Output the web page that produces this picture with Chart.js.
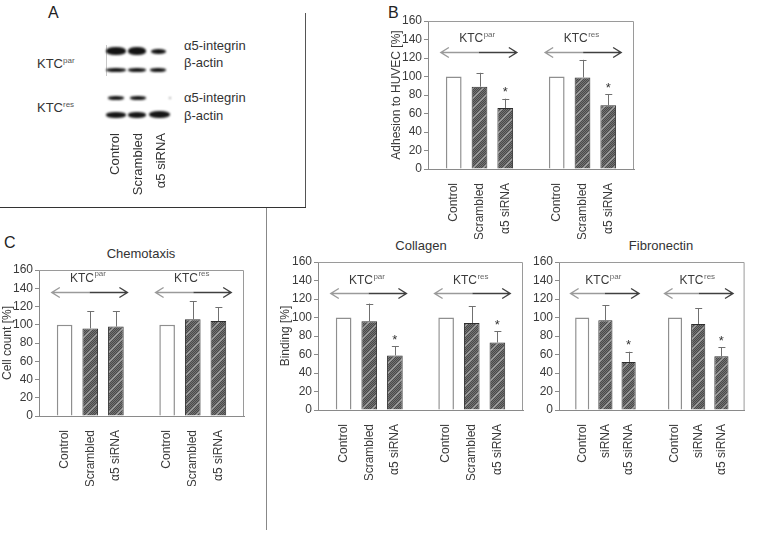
<!DOCTYPE html>
<html>
<head>
<meta charset="utf-8">
<script src="https://cdn.jsdelivr.net/npm/chart.js@4.4.1/dist/chart.umd.min.js"></script>
<style>
  body { margin: 0; background: #fff; }
  #fig { position: relative; width: 765px; height: 534px; overflow: hidden;
         font-family: "Liberation Sans", Arial, sans-serif; color: #333; }
  #fig canvas { position: absolute; left: 0; top: 0; }
  .t { position: absolute; white-space: nowrap; line-height: 1; font-size: 13px; }
  .t sup { font-size: 8px; vertical-align: 5px; color: #555; }
  .letter { font-size: 16px; color: #222; }
  .ttl { transform: translateX(-50%); }
  .vl { position: absolute; writing-mode: vertical-rl; transform: rotate(180deg);
        font-size: 13px; line-height: 14px; white-space: nowrap; }
  .band { position: absolute; background: #141414; border-radius: 45%; filter: blur(0.8px); }
  .rule { position: absolute; background: #555; }
</style>
</head>
<body>
<div id="fig">
  <!-- panel A: western blot -->
  <div class="t letter" style="left:48px;top:5px">A</div>
  <div class="rule" style="left:106px;top:45px;width:1px;height:31px;background:#c8c8c8"></div>
  <div class="band" style="left:106px;top:47px;width:20px;height:8px"></div>
  <div class="band" style="left:128px;top:47px;width:18px;height:8px"></div>
  <div class="band" style="left:151px;top:49px;width:15px;height:5px"></div>
  <div class="band" style="left:106px;top:68px;width:20px;height:4px"></div>
  <div class="band" style="left:128px;top:68px;width:18px;height:4px"></div>
  <div class="band" style="left:150px;top:68px;width:16px;height:4px"></div>
  <div class="band" style="left:108px;top:96px;width:16px;height:4px"></div>
  <div class="band" style="left:130px;top:96px;width:16px;height:4px"></div>
  <div class="band" style="left:169px;top:97px;width:2px;height:2px;background:#999"></div>
  <div class="band" style="left:106px;top:112px;width:20px;height:6px"></div>
  <div class="band" style="left:128px;top:112px;width:18px;height:6px"></div>
  <div class="band" style="left:149px;top:111px;width:21px;height:7px"></div>
  <div class="t" style="left:184px;top:39px">α5-integrin</div>
  <div class="t" style="left:184px;top:56px">β-actin</div>
  <div class="t" style="left:184px;top:91px">α5-integrin</div>
  <div class="t" style="left:184px;top:109px">β-actin</div>
  <div class="t" style="left:37px;top:57px">KTC<sup>par</sup></div>
  <div class="t" style="left:37px;top:101px">KTC<sup>res</sup></div>
  <div class="vl" style="left:108px;top:133px">Control</div>
  <div class="vl" style="left:131px;top:133px">Scrambled</div>
  <div class="vl" style="left:154px;top:133px">α5 siRNA</div>

  <!-- panel frames -->
  <div class="rule" style="left:305px;top:13px;width:1px;height:195px"></div>
  <div class="rule" style="left:0;top:207px;width:306px;height:1px;background:#333"></div>
  <div class="rule" style="left:266px;top:208px;width:1px;height:322px;background:#888"></div>

  <div class="t letter" style="left:388px;top:5px">B</div>
  <div class="t letter" style="left:4px;top:235px">C</div>
  <div class="t ttl" style="left:141px;top:247px">Chemotaxis</div>
  <div class="t ttl" style="left:421px;top:239px">Collagen</div>
  <div class="t ttl" style="left:661px;top:239px">Fibronectin</div>

  <canvas id="cB" width="765" height="534"></canvas>
  <canvas id="cC" width="765" height="534"></canvas>
  <canvas id="cCol" width="765" height="534"></canvas>
  <canvas id="cFn" width="765" height="534"></canvas>
</div>
<script>
// x slots: blank | par group | blank | res group | blank
const LABELS = ["", "Control", "Scrambled", "α5 siRNA", "", "Control", "Scrambled", "α5 siRNA", ""];
const LABELS_FN = ["", "Control", "siRNA", "α5 siRNA", "", "Control", "siRNA", "α5 siRNA", ""];
const GROUPS = [["KTC", "par"], ["KTC", "res"]];

// bars in order: par Control, Scrambled, α5 siRNA, res Control, Scrambled, α5 siRNA
const ADH_MEAN = [100, 89, 66, 100, 99, 69];
const ADH_SD   = [0, 15, 10, 0, 19, 12];
const ADH_SIG  = [false, false, true, false, false, true];

const CHEMO_MEAN = [100, 96, 98, 100, 106, 104];
const CHEMO_SD   = [0, 19, 17, 0, 20, 15];
const CHEMO_SIG  = [false, false, false, false, false, false];

const COL_MEAN = [100, 96, 59, 100, 94, 73];
const COL_SD   = [0, 19, 10, 0, 18, 12];
const COL_SIG  = [false, false, true, false, false, true];

const FN_MEAN = [100, 97, 52, 100, 93, 58];
const FN_SD   = [0, 16, 11, 0, 17, 10];
const FN_SIG  = [false, false, true, false, false, true];

const Y_MAX = 160, Y_STEP = 20;

const W = 765, H = 534, XH = 70;
const AX = "#8a8a8a", TXT = "#3a3a3a";
Chart.defaults.font.family = '"Liberation Sans", Arial, sans-serif';

// slot index for each of the six bars
const SLOT = [1, 2, 3, 5, 6, 7];
const pad9 = (arr) => { const a = new Array(9).fill(null); arr.forEach((v, i) => { a[SLOT[i]] = v; }); return a; };

// dithered dark grey with faint "/" stripes, like the scanned hatch
function hatch() {
  const c = document.createElement("canvas"); c.width = 10; c.height = 10;
  const g = c.getContext("2d");
  g.fillStyle = "#737373"; g.fillRect(0, 0, 10, 10);
  for (let y = 0; y < 10; y++) for (let x = 0; x < 10; x++) {
    const k = (x + y) % 10;
    if (k === 0) g.fillStyle = "#a2a2a2";
    else if (k === 1) g.fillStyle = "#8c8c8c";
    else if ((x + y) % 2 === 0) g.fillStyle = "#4a4a4a";
    else continue;
    g.fillRect(x, y, 1, 1);
  }
  return g.createPattern(c, "repeat");
}
const HATCH = hatch();

// error bars, stars, arrows, KTC labels, plot frame
const deco = {
  id: "deco",
  afterDatasetsDraw(chart, args, o) {
    const { ctx, chartArea: a, scales: { x, y } } = chart;
    ctx.save();
    ctx.strokeStyle = "#9a9a9a"; ctx.lineWidth = 1;
    ctx.beginPath();
    ctx.moveTo(a.left, a.top + 0.5); ctx.lineTo(a.right - 0.5, a.top + 0.5); ctx.lineTo(a.right - 0.5, a.bottom);
    ctx.stroke();

    const bars = chart.getDatasetMeta(0).data;
    o.sd.forEach((sd, i) => {
      const bar = bars[SLOT[i]];
      const top = y.getPixelForValue(o.mean[i] + sd);
      if (sd > 0) {
        ctx.strokeStyle = "#707070"; ctx.lineWidth = 1;
        ctx.beginPath();
        ctx.moveTo(Math.round(bar.x) + 0.5, bar.y); ctx.lineTo(Math.round(bar.x) + 0.5, top);
        ctx.moveTo(bar.x - 3, Math.round(top) + 0.5); ctx.lineTo(bar.x + 4, Math.round(top) + 0.5);
        ctx.stroke();
      }
      if (o.sig[i]) {
        ctx.fillStyle = "#333"; ctx.font = "13px " + Chart.defaults.font.family;
        ctx.textAlign = "center"; ctx.textBaseline = "middle";
        ctx.fillText("*", bar.x, top - 6);
      }
    });

    const ay = Math.round(y.getPixelForValue(o.arrowAt)) + 0.5;
    [[0.5, 3.45, 1.9], [4.55, 7.5, 5.95]].forEach(([s, e, c], gi) => {
      const x1 = x.getPixelForValue(s), x2 = x.getPixelForValue(e), m = (x1 + x2) / 2;
      ctx.lineWidth = 1.4;
      ctx.strokeStyle = "#9a9a9a";
      ctx.beginPath();
      ctx.moveTo(m, ay); ctx.lineTo(x1, ay);
      ctx.moveTo(x1 + 8, ay - 5); ctx.lineTo(x1, ay); ctx.lineTo(x1 + 8, ay + 5);
      ctx.stroke();
      ctx.strokeStyle = "#404040";
      ctx.beginPath();
      ctx.moveTo(m, ay); ctx.lineTo(x2, ay);
      ctx.moveTo(x2 - 8, ay - 5); ctx.lineTo(x2, ay); ctx.lineTo(x2 - 8, ay + 5);
      ctx.stroke();

      const [main, sup] = GROUPS[gi];
      const ly = y.getPixelForValue(o.labelAt);
      ctx.textBaseline = "middle"; ctx.textAlign = "left";
      ctx.font = "12px " + Chart.defaults.font.family;
      const w1 = ctx.measureText(main).width;
      ctx.font = "8px " + Chart.defaults.font.family;
      const w2 = ctx.measureText(sup).width;
      const lx = x.getPixelForValue(c) - (w1 + w2) / 2;
      ctx.fillStyle = TXT;
      ctx.font = "12px " + Chart.defaults.font.family;
      ctx.fillText(main, lx, ly);
      ctx.fillStyle = "#666";
      ctx.font = "8px " + Chart.defaults.font.family;
      ctx.fillText(sup, lx + w1 + 0.5, ly - 4);
    });
    ctx.restore();
  }
};

function panel(id, p) {
  const fills = p.mean.map((_, i) => (i % 3 === 0 ? "#ffffff" : HATCH));
  const borders = p.mean.map((_, i) => (i % 3 === 0 ? "#8f8f8f" : "#2e2e2e"));
  const widths = p.mean.map((_, i) => (i % 3 === 0 ? 1.5 : 1));
  return new Chart(document.getElementById(id), {
    type: "bar",
    data: {
      labels: p.labels,
      datasets: [{
        data: pad9(p.mean),
        backgroundColor: pad9(fills),
        borderColor: pad9(borders),
        borderWidth: pad9(widths),
        borderSkipped: "start",
        barPercentage: 0.61,
        categoryPercentage: 1,
      }],
    },
    options: {
      responsive: false, animation: false, events: [],
      layout: { padding: { left: p.box.l - p.yw, top: p.box.t, right: W - p.box.r, bottom: H - p.box.b - XH } },
      plugins: {
        legend: { display: false }, tooltip: { enabled: false },
        deco: { mean: p.mean, sd: p.sd, sig: p.sig, arrowAt: p.arrowAt, labelAt: p.labelAt },
      },
      scales: {
        x: {
          offset: false,
          grid: { display: false },
          border: { color: AX, width: 1 },
          ticks: { autoSkip: false, minRotation: 90, maxRotation: 90, padding: 6, color: TXT, font: { size: 12 } },
          afterFit: (s) => { s.height = XH; },
        },
        y: {
          min: 0, max: Y_MAX,
          grid: { drawOnChartArea: false, tickLength: 4, color: AX },
          border: { color: AX, width: 1 },
          ticks: { stepSize: Y_STEP, padding: 2, color: TXT, font: { size: 12 } },
          title: { display: !!p.ytitle, text: p.ytitle, color: TXT, font: { size: 12 }, padding: 0 },
          afterFit: (s) => { s.width = p.yw; },
        },
      },
    },
    plugins: [deco],
  });
}

panel("cB", { labels: LABELS, mean: ADH_MEAN, sd: ADH_SD, sig: ADH_SIG, ytitle: "Adhesion to HUVEC [%]",
  box: { l: 428, r: 634, t: 21, b: 169 }, yw: 39, arrowAt: 127, labelAt: 141 });
panel("cC", { labels: LABELS, mean: CHEMO_MEAN, sd: CHEMO_SD, sig: CHEMO_SIG, ytitle: "Cell count [%]",
  box: { l: 39, r: 244, t: 270, b: 416 }, yw: 39, arrowAt: 136, labelAt: 151 });
panel("cCol", { labels: LABELS, mean: COL_MEAN, sd: COL_SD, sig: COL_SIG, ytitle: "Binding [%]",
  box: { l: 318, r: 523, t: 262, b: 410 }, yw: 40, arrowAt: 127, labelAt: 140 });
panel("cFn", { labels: LABELS_FN, mean: FN_MEAN, sd: FN_SD, sig: FN_SIG, ytitle: "",
  box: { l: 559, r: 763, t: 262, b: 410 }, yw: 30, arrowAt: 127, labelAt: 140 });
</script>
</body>
</html>
